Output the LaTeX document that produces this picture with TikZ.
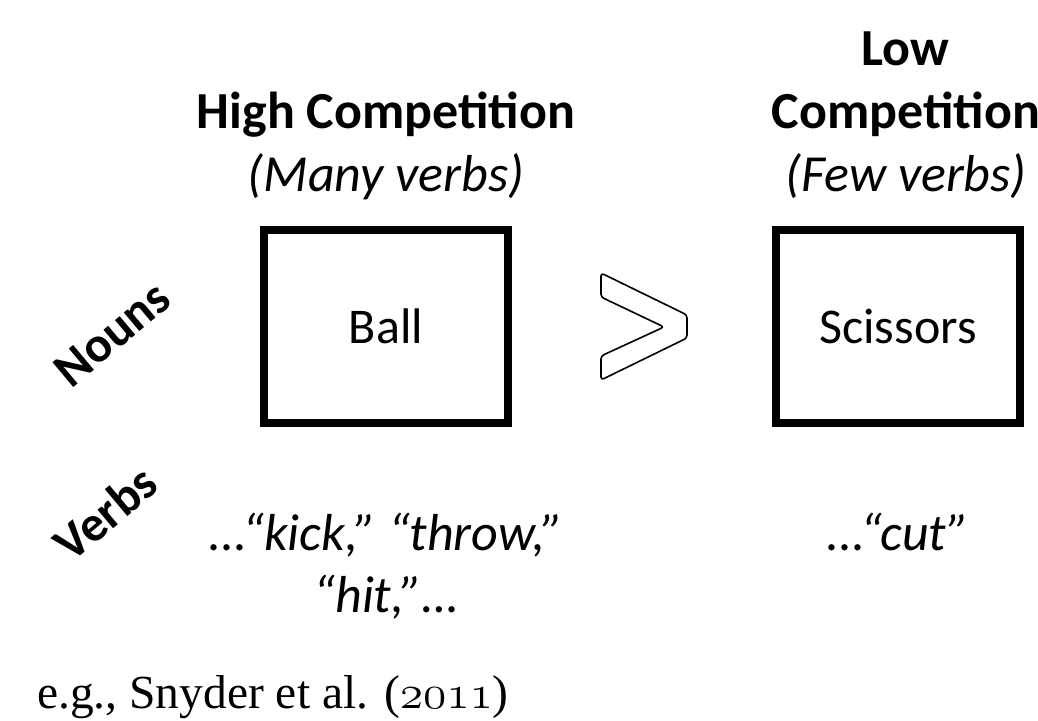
\RequirePackage{fix-cm}
\documentclass[tikz,border=0pt]{standalone}
\usepackage{fontspec}
\setmainfont{Carlito}
\newfontfamily\citefont{Liberation Serif}
\begin{document}
\begin{tikzpicture}[x=1pt,y=-1pt,
  head/.style={font=\fontsize{52}{63}\selectfont\bfseries, inner sep=0pt, anchor=base},
  sub/.style={font=\fontsize{52}{63}\selectfont\itshape, inner sep=0pt, anchor=base},
  axis/.style={font=\fontsize{50}{60}\selectfont\bfseries, inner sep=0pt, rotate=40},
  wordbox/.style={draw, line width=8pt, minimum width=244pt, minimum height=193pt,
    inner sep=0pt, font=\fontsize{50}{60}\selectfont},
  cite/.style={font=\citefont\fontsize{47.5}{56}\selectfont, inner sep=0pt, anchor=base west}]
  \fill[white] (0,0) rectangle (1038,720);
  \useasboundingbox (0,0) rectangle (1038,720);

  % column headings
  \node[head] (hihead) at (386,128) {High Competition};
  \node[sub]  (hisub)  at (386,191) {(Many verbs)};
  \node[head] (lohead1) at (905,65)  {Low};
  \node[head] (lohead2) at (906,128) {Competition};
  \node[sub]  (losub)   at (906,191) {(Few verbs)};

  % noun boxes
  \node[wordbox] (ball)     at (386,326.5) {Ball};
  \node[wordbox] (scissors) at (898,326.5) {Scissors};

  % outlined "greater than" sign between the boxes
  \draw[line width=1.6pt, rounded corners=3pt, line join=round]
    (601,273) -- (687,315) -- (687,338) -- (601,380) -- (601,356)
    -- (664,327) -- (601,297) -- cycle;

  % row labels
  \node[axis] (nouns) at (112,334) {Nouns};
  \node[axis] (verbs) at (105,513) {Verbs};

  % verbs associated with each noun
  \node[sub] (hiverbs1) at (386,550) {...“kick,” “throw,”};
  \node[sub] (hiverbs2) at (386,612) {“hit,”…};
  \node[sub] (loverbs)  at (898,550) {...“cut”};

  % source
  \node[cite] (ref) at (37,708) {e.g., Snyder et al. ($\mathnormal{2011}$)};
\end{tikzpicture}
\end{document}
